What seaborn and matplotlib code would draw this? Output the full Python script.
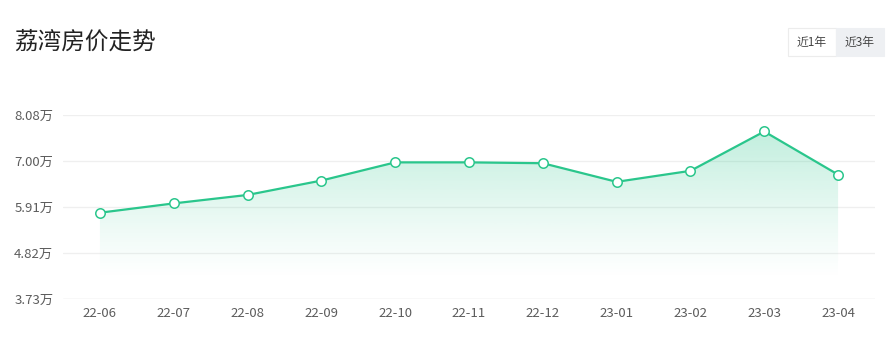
import matplotlib
matplotlib.use("Agg")
import matplotlib.pyplot as plt
import seaborn as sns
import numpy as np
import pandas as pd
from matplotlib.patches import Rectangle, Polygon

months = ["22-06", "22-07", "22-08", "22-09", "22-10", "22-11", "22-12",
          "23-01", "23-02", "23-03", "23-04"]
prices = [5.77, 5.99, 6.19, 6.53, 6.96, 6.96, 6.94, 6.50, 6.76, 7.69, 6.67]
yticks = [3.73, 4.82, 5.91, 7.00, 8.08]
ytick_labels = ["3.73万", "4.82万", "5.91万", "7.00万", "8.08万"]
title = "荔湾房价走势"
buttons = ["近1年", "近3年"]

sns.set_theme(style="white")
plt.rcParams['font.family'] = ['Noto Sans CJK SC', 'DejaVu Sans']

W, H = 893, 345
fig = plt.figure(figsize=(W / 100, H / 100), dpi=100)
ax = fig.add_axes([63 / W, 1 - 299 / H, (875 - 63) / W, (299 - 115) / H])

df = pd.DataFrame({"month": months, "price": prices})
df["x"] = np.arange(len(months))
green = "#2ac68c"

ax.set_xlim(-0.5, len(months) - 0.5)
ax.set_ylim(yticks[0], yticks[-1])

# gradient fill under the line
ymin, ymax = yticks[0], yticks[-1]
rgba = np.zeros((256, 1, 4))
rgb = matplotlib.colors.to_rgb(green)
rgba[..., 0], rgba[..., 1], rgba[..., 2] = rgb
fade_start = 4.2
yy = np.linspace(ymin, ymax, 256).reshape(-1, 1)
alpha = np.clip((yy - fade_start) / (7.8 - fade_start), 0, 1) ** 1.2 * 0.3
rgba[..., 3] = alpha
im = ax.imshow(rgba, extent=[-0.5, len(months) - 0.5, ymin, ymax],
               origin="lower", aspect="auto", zorder=1)
verts = [(df["x"].iloc[0], ymin)] + list(zip(df["x"], df["price"])) + [(df["x"].iloc[-1], ymin)]
poly = Polygon(verts, closed=True, transform=ax.transData, facecolor="none", edgecolor="none")
ax.add_patch(poly)
im.set_clip_path(poly)

sns.lineplot(data=df, x="x", y="price", ax=ax, color=green, linewidth=1.6,
             marker="o", markersize=6.8, markerfacecolor="white",
             markeredgecolor=green, markeredgewidth=1.1, zorder=3)

ax.set_yticks(yticks)
ax.set_yticklabels(ytick_labels)
ax.set_xticks(df["x"])
ax.set_xticklabels(months)
ax.set_xlabel("")
ax.set_ylabel("")
ax.grid(axis="y", color="#efefef", linewidth=0.9)
ax.grid(axis="x", visible=False)
ax.set_axisbelow(True)
for s in ax.spines.values():
    s.set_visible(False)
ax.axhline(ymin, color="#e6e6e6", linewidth=1.0, zorder=0)
ax.tick_params(axis="both", length=0, labelsize=9.5, colors="#5c5c5c")
ax.tick_params(axis="y", pad=7)
ax.tick_params(axis="x", pad=6)

fig.text(14 / W, 1 - 42 / H, title, fontsize=17, color="#222222", va="center", ha="left")

# buttons
fig.patches.append(Rectangle((788 / W, 1 - 56 / H), 48 / W, 28 / H, transform=fig.transFigure,
                             facecolor="white", edgecolor="#ececec", linewidth=0.8))
fig.patches.append(Rectangle((836 / W, 1 - 56 / H), 48 / W, 28 / H, transform=fig.transFigure,
                             facecolor="#eef0f3", edgecolor="#eef0f3", linewidth=0.8))
fig.text(812 / W, 1 - 42 / H, buttons[0], fontsize=8.5, color="#444444", ha="center", va="center")
fig.text(860 / W, 1 - 42 / H, buttons[1], fontsize=8.5, color="#444444", ha="center", va="center")

fig.savefig("out.png", dpi=100)
